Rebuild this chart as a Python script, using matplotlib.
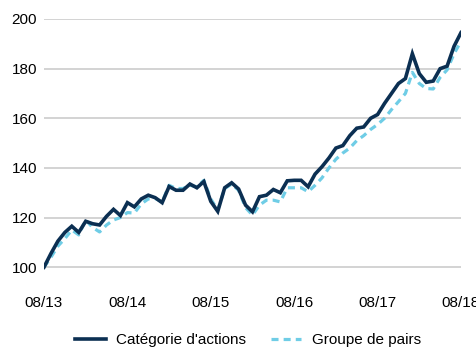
import numpy as np
import matplotlib.pyplot as plt
from matplotlib.lines import Line2D

# monthly index values, base 100 = 08/2013
actions = [100, 105.5, 110.5, 114, 116.5, 114, 118.5, 117.5, 117, 120.5,
           123.3, 120.8, 126, 124.3, 127.5, 129, 128, 126, 132.5, 131,
           131, 133.5, 132, 134.5, 126.5, 122.5, 132, 134, 131.5, 125,
           122.3, 128.4, 129, 131.3, 130, 134.8, 135, 135, 132.4, 137.5,
           140.5, 144, 148, 149, 153, 156, 156.5, 160, 161.5, 166,
           170, 174, 176, 186, 178, 174.5, 175, 180, 181, 189,
           194.5]
pairs = [100, 104, 108.5, 111.5, 115, 113, 119, 116, 114.2, 117,
         119, 120, 122, 121.8, 125.5, 127.5, 127.7, 126.3, 133, 131.7,
         131.7, 133, 132.4, 135, 127.5, 123, 131.7, 133.5, 131, 124,
         121, 125, 127, 127, 126.3, 132, 132, 132, 130.4, 133,
         136, 140, 143.5, 146, 148, 151, 153, 155.5, 157.5, 160,
         163.5, 166.7, 170, 178.5, 174, 172, 171.8, 176.5, 179.5, 186,
         191]
tick_labels = ["08/13", "08/14", "08/15", "08/16", "08/17", "08/18"]
series_names = ["Catégorie d'actions", "Groupe de pairs"]

dark = "#0b2f52"
light = "#6fcde6"

plt.rcParams['font.family'] = ['Liberation Sans', 'DejaVu Sans']

fig = plt.figure(figsize=(4.77, 3.49), dpi=100)
ax = fig.add_axes([44/477, 1 - 292/349, 417/477, (292 - 19)/349])

x = np.arange(len(actions))
ax.plot(x, pairs, color=light, lw=2.3, dashes=(2.2, 1.6), zorder=3)
ax.plot(x, actions, color=dark, lw=2.6, zorder=4, solid_joinstyle='miter')

ax.set_xlim(0, 60)
ax.set_ylim(90, 200)
ax.set_yticks([100, 120, 140, 160, 180, 200])
ax.set_xticks(np.arange(0, 61, 12))
ax.set_xticklabels(tick_labels)
ax.yaxis.grid(True, color="#d0d0d0", lw=1.3)
ax.set_axisbelow(True)
for s in ax.spines.values():
    s.set_visible(False)
ax.tick_params(length=0, labelsize=11, colors="black")
ax.tick_params(axis='y', pad=5)
ax.tick_params(axis='x', pad=3)

handles = [Line2D([], [], color=dark, lw=2.6),
           Line2D([], [], color=light, lw=2.3, dashes=(2.2, 1.6))]
fig.legend(handles, series_names, loc='center', bbox_to_anchor=(248/477, 1 - 340/349),
           ncol=2, frameon=False, fontsize=11, handlelength=2.0, columnspacing=1.6,
           handletextpad=0.7)

fig.savefig("out.png", dpi=100)
